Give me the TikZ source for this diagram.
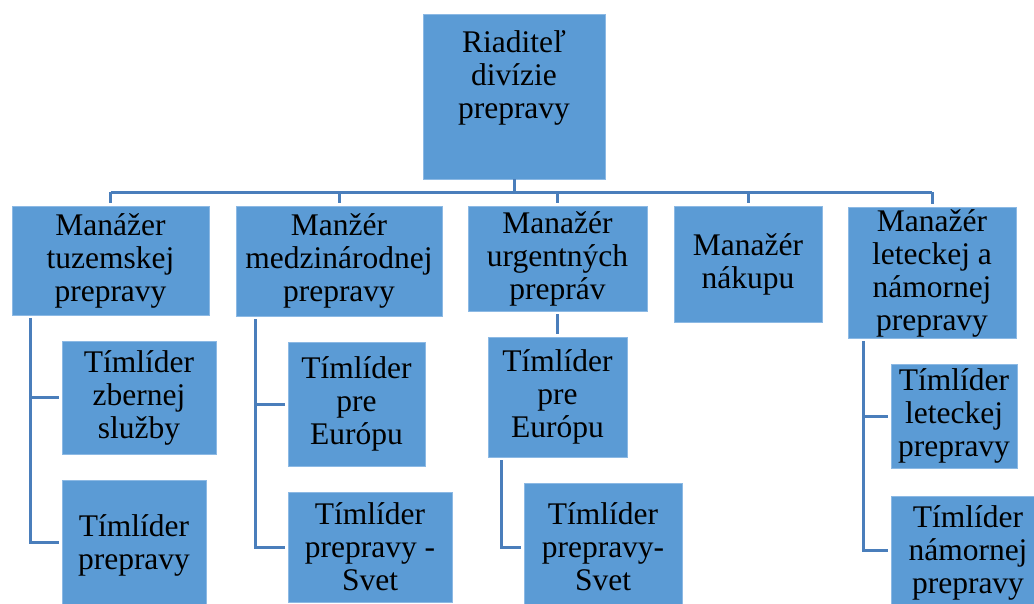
\documentclass[tikz,border=0pt]{standalone}
\usepackage{fontspec}
\setmainfont{Liberation Serif}
\definecolor{boxfill}{RGB}{91,155,213}
\definecolor{boxline}{RGB}{140,185,228}
\definecolor{connc}{RGB}{74,126,187}
\begin{document}
\begin{tikzpicture}[x=1pt,y=-1pt,
  box/.style={draw=boxline, line width=0.8pt, fill=boxfill, inner sep=0pt, align=center,
    font=\fontsize{31.5}{33}\selectfont},
  txt/.style={inner sep=0pt, align=center, font=\fontsize{31.5}{33}\selectfont},
  conn/.style={draw=connc, line width=3pt},
  br/.style={conn, shorten >=3pt}]
\useasboundingbox (0,0) rectangle (1034,603);
\clip (0,0) rectangle (1034,603);
\fill[white] (0,0) rectangle (1034,603);

% top
\node[box, minimum width=182pt, minimum height=165pt] (top) at (514,96.5) {};
\node[txt] (toptxt) at (514,78) {Riaditeľ\\divízie\\prepravy};

% managers
\node[box, minimum width=197pt, minimum height=109pt] (m1) at (110.5,260.5) {Manážer\\tuzemskej\\prepravy};
\node[box, minimum width=206pt, minimum height=110pt] (m2) at (339,261) {Manžér\\medzinárodnej\\prepravy};
\node[box, minimum width=179pt, minimum height=105pt] (m3) at (557.5,258.5) {Manažér\\urgentných\\prepráv};
\node[box, minimum width=148pt, minimum height=116pt] (m4) at (748,264) {Manažér\\nákupu};
\node[box, minimum width=168pt, minimum height=131pt] (m5) at (932,273) {Manažér\\leteckej a\\námornej\\prepravy};

% team leaders
\node[box, minimum width=154pt, minimum height=113pt] (a1) at (139,397.5) {Tímlíder\\zbernej\\služby};
\node[box, minimum width=144pt, minimum height=130pt] (a2) at (134,545) {Tímlíder\\prepravy};
\node[box, minimum width=137pt, minimum height=124pt] (b1) at (356.5,404) {Tímlíder\\pre\\Európu};
\node[box, minimum width=164pt, minimum height=110pt] (b2) at (370,547) {Tímlíder\\prepravy -\\Svet};
\node[box, minimum width=139pt, minimum height=120pt] (c1) at (557.5,397) {Tímlíder\\pre\\Európu};
\node[box, minimum width=158pt, minimum height=128pt] (c2) at (603,547) {Tímlíder\\prepravy-\\Svet};
\node[box, minimum width=126pt, minimum height=104pt] (d1) at (954,416) {Tímlíder\\leteckej\\prepravy};
\node[box, minimum width=154pt, minimum height=114pt] (d2) at (968,553) {Tímlíder\\námornej\\prepravy};

% top to managers
\coordinate (bar) at (514,192);
\draw[conn] (top.south) -- (bar);
\draw[conn] (m1.north |- bar) -- (m5.north |- bar);
\foreach \m in {m1,m2,m3,m4,m5}{
  \draw[conn, shorten >=3pt] (\m.north |- bar) -- (\m.north);
}

% m1 branch
\coordinate (va) at (30,318);
\draw[br] (va) |- ([yshift=3pt]a2.west);
\draw[br] (va |- a1.west) -- (a1.west);

% m2 branch
\coordinate (vb) at (255,319);
\draw[br] (vb) |- (b2.west);
\draw[br] (vb |- b1.west) -- (b1.west);

% m3 branch
\draw[conn, shorten <=3pt, shorten >=3pt] (m3.south) -- (c1.north);
\coordinate (vc) at (501,460);
\draw[br] (vc) |- (c2.west);

% m5 branch
\coordinate (vd) at (863,341);
\draw[br] (vd) |- ([yshift=3pt]d2.west);
\draw[br] (vd |- d1.west) -- (d1.west);
\end{tikzpicture}
\end{document}
